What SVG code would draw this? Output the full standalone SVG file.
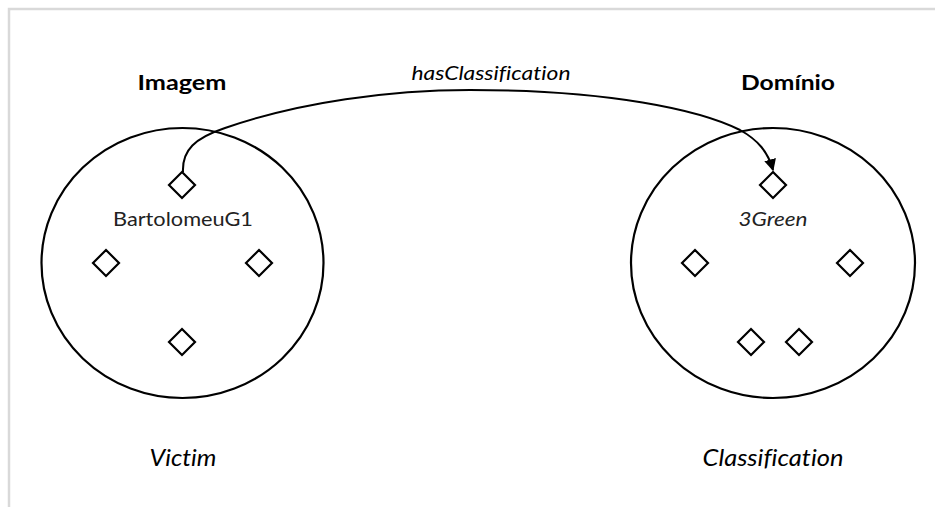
<svg xmlns="http://www.w3.org/2000/svg" width="935" height="507" viewBox="0 0 935 507">
<style>
.frame{fill:none;stroke:#d9d9d9;stroke-width:2.5}
.set{fill:none;stroke:#000;stroke-width:2.2}
.inst{fill:#fff;stroke:#000;stroke-width:2.2}
.conn{fill:none;stroke:#000;stroke-width:2}
text{font-family:Lato,"Open Sans","Liberation Sans",sans-serif;fill:#000;text-anchor:middle;font-variant-ligatures:none}
.title{font-weight:bold;font-size:20px}
.it{font-style:italic}
.lbl{font-size:20px;fill:#222}
</style>
<defs>
<marker id="arr" viewBox="0 0 10 10" refX="9" refY="5" markerWidth="6" markerHeight="6" orient="auto" markerUnits="strokeWidth">
<path d="M0,0 L10,5 L0,10 z" fill="#000"/>
</marker>
</defs>
<rect width="935" height="507" fill="#fff"/>
<path class="frame" d="M9,507 L9,9 L935,9"/>
<g id="imagem">
<ellipse class="set" cx="182.5" cy="263" rx="141" ry="135"/>
<text class="title" x="182" y="90" textLength="89" lengthAdjust="spacingAndGlyphs">Imagem</text>
<text class="it" x="183" y="466" font-size="23" textLength="67" lengthAdjust="spacingAndGlyphs">Victim</text>
</g>
<g id="dominio">
<ellipse class="set" cx="773" cy="263" rx="142" ry="135"/>
<text class="title" x="788" y="90" textLength="94" lengthAdjust="spacingAndGlyphs">Domínio</text>
<text class="it" x="773" y="466" font-size="23" textLength="141" lengthAdjust="spacingAndGlyphs">Classification</text>
</g>
<g id="bartolomeuG1">
<path class="inst" d="M182,172 L195,185 L182,198 L169,185 z"/>
<text class="lbl" x="183" y="226" textLength="140" lengthAdjust="spacingAndGlyphs">BartolomeuG1</text>
</g>
<g id="img-i2"><path class="inst" d="M106,250 L119,263 L106,276 L93,263 z"/></g>
<g id="img-i3"><path class="inst" d="M259,250 L272,263 L259,276 L246,263 z"/></g>
<g id="img-i4"><path class="inst" d="M182,329 L195,342 L182,355 L169,342 z"/></g>
<g id="green3">
<path class="inst" d="M773,172 L786,185 L773,198 L760,185 z"/>
<text class="lbl it" x="773" y="226" textLength="69" lengthAdjust="spacingAndGlyphs">3Green</text>
</g>
<g id="dom-i2"><path class="inst" d="M695,250 L708,263 L695,276 L682,263 z"/></g>
<g id="dom-i3"><path class="inst" d="M850,250 L863,263 L850,276 L837,263 z"/></g>
<g id="dom-i4"><path class="inst" d="M751,329 L764,342 L751,355 L738,342 z"/></g>
<g id="dom-i5"><path class="inst" d="M799,329 L812,342 L799,355 L786,342 z"/></g>
<g id="connectors">
<path class="conn" marker-end="url(#arr)" d="M183,172 C182,150 195,138 225,128 C300,102 390,90 470,90 C610,90 700,110 740,130 C758,140 768,152 773,170"/>
<text class="it" x="491" y="80" font-size="20" textLength="159" lengthAdjust="spacingAndGlyphs">hasClassification</text>
</g>
</svg>
